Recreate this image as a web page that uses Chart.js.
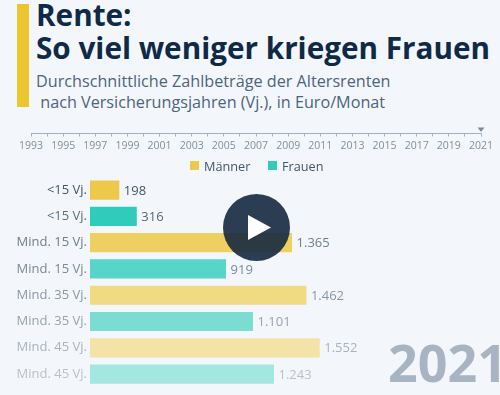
<!DOCTYPE html>
<html lang="de">
<head>
<meta charset="utf-8">
<title>Rente</title>
<script src="https://cdn.jsdelivr.net/npm/chart.js@4"></script>
<style>
  html, body { margin: 0; padding: 0; }
  body { width: 500px; height: 395px; background: #f3f7fb; overflow: hidden; position: relative; font-family: "Open Sans", sans-serif; }
  #accent { position: absolute; left: 17px; top: 4px; width: 12px; height: 103px; background: #ecc62f; }
  h1 { position: absolute; left: 36px; top: -2px; margin: 0; font-size: 29.7px; line-height: 33px; font-weight: 700; color: #0f2a47; white-space: nowrap; }
  #sub { position: absolute; left: 36px; top: 70.5px; font-size: 16.2px; line-height: 21px; color: #4c6480; white-space: pre; }
  #timeline { position: absolute; left: 0; top: 118px; }
  #bars { position: absolute; left: 0; top: 155px; }
  #legend { position: absolute; top: 157px; left: 0; font-size: 12.7px; line-height: 18px; color: #44566c; }
  #legend span { position: absolute; white-space: nowrap; }
  #legend i { position: absolute; top: 4px; width: 9px; height: 9px; }
  #year { position: absolute; left: 388px; top: 329px; font-size: 52px; line-height: 66px; font-weight: 700; color: #a8b4c2; }
  #play { position: absolute; left: 223px; top: 194px; width: 67px; height: 67px; }
</style>
</head>
<body>
<div id="accent"></div>
<h1>Rente:<br>So viel weniger kriegen Frauen</h1>
<div id="sub">Durchschnittliche Zahlbeträge der Altersrenten
 nach Versicherungsjahren (Vj.), in Euro/Monat</div>
<canvas id="timeline" width="500" height="31"></canvas>
<canvas id="bars" width="500" height="243"></canvas>
<div id="legend">
  <i style="left:190px;background:#ecc94b"></i><span style="left:204px">Männer</span>
  <i style="left:268px;background:#2fccbb"></i><span style="left:282px">Frauen</span>
</div>
<div id="year">2021</div>
<svg id="play" viewBox="0 0 67 67"><circle cx="33.5" cy="33.5" r="33.5" fill="#14283f" fill-opacity="0.9"/><polygon points="25,21 25,46 48,33.5" fill="#fff"/></svg>
<script>
// Daten
const categories = ["<15 Vj.", "<15 Vj.", "Mind. 15 Vj.", "Mind. 15 Vj.", "Mind. 35 Vj.", "Mind. 35 Vj.", "Mind. 45 Vj.", "Mind. 45 Vj."];
const maenner = [198, null, 1365, null, 1462, null, 1552, null];
const frauen = [null, 316, null, 919, null, 1101, null, 1243];
const years = [1993, 2021];

// Farben pro Zeile, nach unten blasser
const barColors = ["#ecc94b", "#2fccbb", "#edd061", "#57d5c8", "#f0da82", "#7bddd2", "#f3e3a6", "#a3e7e0"];
const labelColors = ["#44566c", "#5d6d80", "#6f7d8e", "#7b8897", "#8b96a4", "#98a2ae", "#a9b2bc", "#b9c0c9"];
const valueColors = ["#44566c", "#55667a", "#6f7d8e", "#7b8897", "#8b96a4", "#98a2ae", "#a9b2bc", "#b9c0c9"];

const fmt = v => String(v).replace(/\B(?=(\d{3})+$)/g, ".");

// Werte rechts neben den Balken
const valueLabels = {
  id: "valueLabels",
  afterDatasetsDraw(chart) {
    const ctx = chart.ctx;
    ctx.save();
    ctx.font = '13px "Open Sans"';
    ctx.textBaseline = "middle";
    chart.data.datasets.forEach((ds, d) => {
      chart.getDatasetMeta(d).data.forEach((bar, i) => {
        if (ds.data[i] == null) return;
        ctx.fillStyle = valueColors[i];
        ctx.fillText(fmt(ds.data[i]), bar.x + 4.5, bar.y + 1);
      });
    });
    ctx.restore();
  }
};

new Chart(document.getElementById("bars"), {
  type: "bar",
  data: {
    labels: categories,
    datasets: [
      { label: "Männer", data: maenner, backgroundColor: barColors, stack: "a", barPercentage: 0.73, categoryPercentage: 1 },
      { label: "Frauen", data: frauen, backgroundColor: barColors, stack: "a", barPercentage: 0.73, categoryPercentage: 1 }
    ]
  },
  options: {
    indexAxis: "y",
    responsive: false,
    animation: false,
    layout: { padding: { left: 0, right: 0, top: 22, bottom: 0 } },
    scales: {
      x: { display: false, min: 0, max: 2770 },
      y: {
        stacked: true,
        afterFit: s => { s.width = 90; },
        grid: { display: false, drawTicks: false },
        border: { display: false },
        ticks: { autoSkip: false, padding: 3, font: { family: "Open Sans", size: 13 }, color: c => labelColors[c.index] }
      }
    },
    plugins: { tooltip: { enabled: false }, legend: { display: false } }
  },
  plugins: [valueLabels]
});

// Zeitleiste oben
const marker = {
  id: "marker",
  afterDraw(chart) {
    const ctx = chart.ctx, x = chart.scales.x.getPixelForValue(years[1]), y = chart.chartArea.bottom;
    ctx.fillStyle = "#7d8b9b";
    ctx.beginPath();
    ctx.moveTo(x - 3.5, y - 6);
    ctx.lineTo(x + 3.5, y - 6);
    ctx.lineTo(x, y - 1.5);
    ctx.fill();
  }
};

new Chart(document.getElementById("timeline"), {
  type: "scatter",
  data: { datasets: [{ data: [] }] },
  options: {
    responsive: false,
    animation: false,
    layout: { padding: { left: 31, right: 19, top: 0, bottom: 0 } },
    scales: {
      y: { display: false },
      x: {
        type: "linear",
        min: years[0],
        max: years[1],
        border: { color: "#9fb0bf" },
        grid: { drawOnChartArea: false, tickLength: 3, tickColor: "#9fb0bf", tickWidth: 1 },
        ticks: {
          stepSize: 1, autoSkip: false, maxRotation: 0, padding: 3,
          font: { family: "Open Sans", size: 10.5 }, color: "#7f8fa0",
          callback: v => (v % 2 === 1 ? String(v) : "")
        }
      }
    },
    plugins: { legend: { display: false }, tooltip: { enabled: false } }
  },
  plugins: [marker]
});
</script>
</body>
</html>
